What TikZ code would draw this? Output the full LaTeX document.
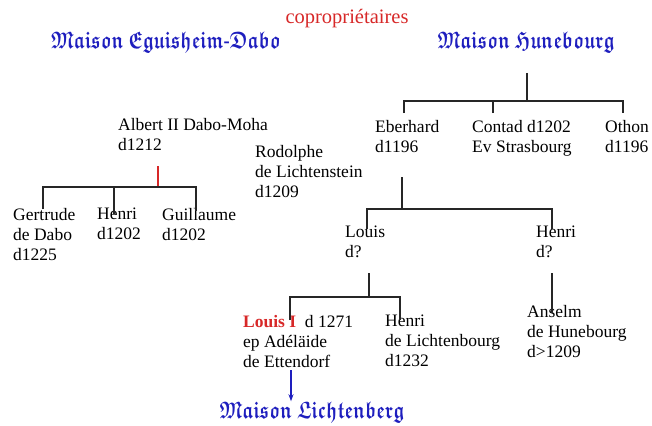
\documentclass[tikz,border=0pt]{standalone}
\usepackage{amssymb,bm,graphicx}
\usepackage{fontspec}
\setmainfont{Liberation Serif}
\usetikzlibrary{positioning,arrows.meta}

\definecolor{maisonblue}{RGB}{30,30,190}
\definecolor{coproRed}{RGB}{215,40,40}

\newcommand{\frakword}[1]{\(\bm{\mathfrak{#1}}\)}

\tikzset{
	person/.style={anchor=north west, align=left, inner sep=0pt, font=\fontsize{17.5}{20}\selectfont},
	maison/.style={inner sep=0pt, text=maisonblue, font=\fontsize{18.4}{22}\selectfont},
	tree/.style={line width=1.3pt, black!85},
}

\begin{document}
\begin{tikzpicture}[x=1pt,y=-1pt]
	\useasboundingbox (0,0) rectangle (652,425);

	\node[anchor=base, inner sep=0pt, text=coproRed, font=\fontsize{20.5}{22}\selectfont] (copro) at (347,24) {copropriétaires};
	\node[maison] (eguisheim) at (166,42) {\scalebox{1}[1.3]{\frakword{Maison}\ \frakword{Eguisheim}-\frakword{Dabo}}};
	\node[maison] (hunebourg) at (526,42) {\scalebox{1}[1.3]{\frakword{Maison}\ \frakword{Hunebourg}}};
	\node[maison] (lichtenberg) at (312,412) {\scalebox{1}[1.3]{\frakword{Maison}\ \frakword{Lichtenberg}}};

	% Hunebourg
	\node[person] (eberhard) at (375,120) {Eberhard\\d1196};
	\node[person] (contad) at (472,120) {Contad d1202\\Ev Strasbourg};
	\node[person] (othon) at (605,120) {Othon\\d1196};
	\coordinate (hunTop) at (527,73);
	\coordinate (hunFork) at (527,101);
	\draw[tree] (hunTop) -- (hunFork);
	\draw[tree] ([xshift=29pt]eberhard.north west) ++(0,-7) |- (hunFork) -| ([xshift=18pt,yshift=7pt]othon.north west);
	\draw[tree] ([xshift=21pt,yshift=7pt]contad.north west) -- ([xshift=21pt]contad.north west |- hunFork);

	% Eguisheim-Dabo
	\node[person] (albert) at (118,118) {Albert II Dabo-Moha\\d1212};
	\node[person] (rodolphe) at (255,145) {Rodolphe\\de Lichtenstein\\d1209};
	\node[person] (gertrude) at (13,208) {Gertrude\\de Dabo\\d1225};
	\node[person] (henriD) at (97,208) {Henri\\d1202};
	\node[person] (guillaume) at (162,208) {Guillaume\\d1202};
	\coordinate (albertTop) at (158,166);
	\coordinate (albertFork) at (158,187);
	\draw[tree, coproRed] (albertTop) -- (albertFork);
	\draw[tree] ([xshift=30pt,yshift=-1pt]gertrude.north west) |- (albertFork) -| ([xshift=34pt,yshift=-3pt]guillaume.north west);
	\draw[tree] ([xshift=17pt,yshift=-6pt]henriD.north west) -- ([xshift=17pt]henriD.north west |- albertFork);

	% Eberhard
	\node[person] (louis) at (345,226) {Louis\\d?};
	\node[person] (henriH) at (536,226) {Henri\\d?};
	\coordinate (eberTop) at (402,177);
	\coordinate (eberFork) at (402,209);
	\draw[tree] (eberTop) -- (eberFork);
	\draw[tree] ([xshift=22pt,yshift=-3pt]louis.north west) |- (eberFork) -| ([xshift=16pt,yshift=-3pt]henriH.north west);

	% Louis
	\node[person] (louisI) at (243,315) {\textcolor{coproRed}{\textbf{Louis I}}\enspace d 1271\\ep Adéläide\\de Ettendorf};
	\node[person] (henriL) at (385,315) {Henri\\de Lichtenbourg\\d1232};
	\coordinate (louisTop) at (369,273);
	\coordinate (louisFork) at (369,297);
	\draw[tree] (louisTop) -- (louisFork);
	\draw[tree] ([xshift=47pt,yshift=-5pt]louisI.north west) |- (louisFork) -| ([xshift=15pt,yshift=-5pt]henriL.north west);

	% Henri
	\node[person] (anselm) at (527,305) {Anselm\\de Hunebourg\\d>1209};
	\coordinate (henriTop) at (552,273);
	\draw[tree] (henriTop) -- ([xshift=25pt,yshift=-8pt]anselm.north west);

	\coordinate (lichArrow) at (291,370);
	\draw[-{Stealth[length=7pt,width=5pt]}, line width=1.1pt, maisonblue] (lichArrow) -- (lichArrow |- lichtenberg.north);
\end{tikzpicture}
\end{document}
